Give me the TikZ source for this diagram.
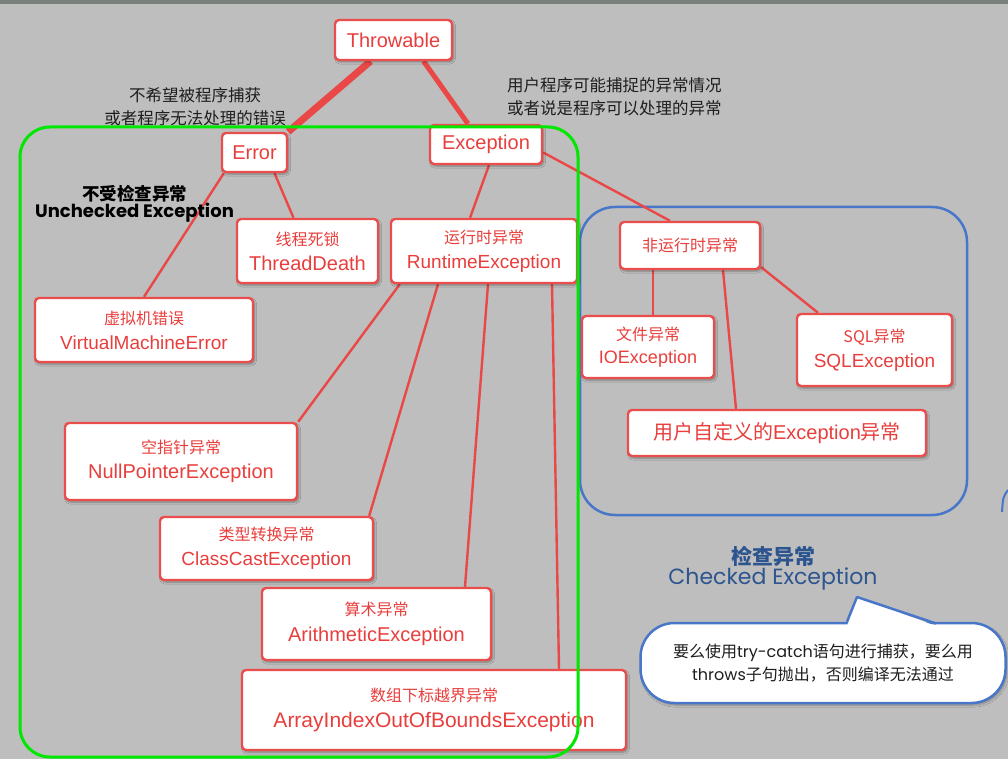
\documentclass[tikz,border=0pt]{standalone}
\usepackage{fontspec}
\setmainfont{Liberation Sans}
\newfontfamily\cjk{Noto Sans CJK SC}
\newfontfamily\geo{Poppins}
\usetikzlibrary{calc,shadows.blur}

\definecolor{bggray}{RGB}{190,190,190}
\definecolor{topgray}{RGB}{122,128,124}
\definecolor{boxred}{RGB}{234,78,76}
\definecolor{txtred}{RGB}{232,62,60}
\definecolor{linkred}{RGB}{234,72,70}
\definecolor{grpgreen}{RGB}{0,232,0}
\definecolor{grpblue}{RGB}{72,118,200}
\definecolor{labblue}{RGB}{44,84,142}
\definecolor{ink}{RGB}{30,30,30}

\pgfdeclarelayer{links}
\pgfdeclarelayer{front}
\pgfsetlayers{links,main,front}

% Chinese first line inside a class box
\newcommand\cn[1]{{\cjk\fontsize{16}{25}\selectfont #1}}

\begin{document}
\begin{tikzpicture}[x=1pt,y=-1pt,
  ebox/.style={draw=boxred, line width=2.4pt, fill=white, rounded corners=4pt,
    text=txtred, align=center, inner sep=0pt,
    font=\fontsize{19}{25}\selectfont,
    blur shadow={shadow xshift=1.5pt, shadow yshift=-2pt, shadow opacity=35, shadow blur steps=6}},
  link/.style={draw=linkred, line width=2.4pt},
  trunk/.style={draw=linkred},
  note/.style={text=ink, align=center, inner sep=0pt, font=\cjk\fontsize{16.5}{23}\selectfont},
]
\useasboundingbox (0,0) rectangle (1008,759);

% class hierarchy boxes
\node[ebox, minimum width=117pt, minimum height=40pt, font=\fontsize{20}{24}\selectfont] (throw) at (393.5,40) {Throwable};
\node[ebox, minimum width=65pt, minimum height=39pt, font=\fontsize{20}{24}\selectfont] (error) at (254.5,152.5) {Error};
\node[ebox, minimum width=112pt, minimum height=39pt, font=\fontsize{20}{24}\selectfont] (exc) at (486,144.5) {Exception};

\node[ebox, minimum width=141pt, minimum height=64pt, font=\fontsize{20}{25}\selectfont] (thread) at (307.5,251) {\cn{线程死锁}\\ThreadDeath};
\node[ebox, minimum width=186pt, minimum height=64pt] (runtime) at (484,251) {\cn{运行时异常}\\RuntimeException};
\node[ebox, minimum width=218pt, minimum height=64pt] (vme) at (144,330) {\cn{虚拟机错误}\\VirtualMachineError};
\node[ebox, minimum width=232pt, minimum height=77pt, font=\fontsize{20}{25}\selectfont] (npe) at (181,461.5) {\cn{空指针异常}\\NullPointerException};
\node[ebox, minimum width=213pt, minimum height=63pt] (cce) at (266.5,548.5) {\cn{类型转换异常}\\ClassCastException};
\node[ebox, minimum width=229pt, minimum height=72pt, font=\fontsize{20}{26}\selectfont] (arith) at (376.5,624) {\cn{算术异常}\\ArithmeticException};
\node[ebox, minimum width=384pt, minimum height=80pt, font=\fontsize{21}{26}\selectfont] (aioobe) at (434,710) {\cn{数组下标越界异常}\\ArrayIndexOutOfBoundsException};

\node[ebox, minimum width=140pt, minimum height=47pt] (nonrt) at (690,245.5) {\cn{非运行时异常}};
\node[ebox, minimum width=132pt, minimum height=62pt, font=\fontsize{18}{23}\selectfont] (io) at (648,347) {\cn{文件异常}\\IOException};
\node[ebox, minimum width=155pt, minimum height=72pt] (sql) at (874.5,350) {\cn{SQL异常}\\SQLException};
\node[ebox, minimum width=298pt, minimum height=46pt, font=\fontsize{20}{24}\selectfont] (user) at (777,433) {{\cjk 用户自定义的}Exception{\cjk 异常}};

% annotations
\node[note] (errnote) at (195,106.5) {不希望被程序捕获\\或者程序无法处理的错误};
\node[note, align=left, anchor=west] (excnote) at (507,97) {用户程序可能捕捉的异常情况\\或者说是程序可以处理的异常};
\node[align=center, inner sep=0pt, text=black] (unck) at (134.5,204) {{\cjk\bfseries\fontsize{17.5}{22}\selectfont 不受检查异常}\\{\geo\bfseries\fontsize{18}{22}\selectfont Unchecked Exception}};
\node[align=center, inner sep=0pt, text=labblue] (chk) at (773,568.5) {{\cjk\bfseries\fontsize{21}{27}\selectfont 检查异常}\\{\geo\fontsize{22}{27}\selectfont Checked Exception}};

% speech bubble
\node[draw=grpblue, line width=2.5pt, fill=white, rounded corners=34pt, minimum width=365pt, minimum height=80pt,
      align=center, inner sep=0pt, text=ink, font=\fontsize{16}{23}\selectfont,
      blur shadow={shadow xshift=1.5pt, shadow yshift=-2pt, shadow opacity=30, shadow blur steps=6}] (hint) at (823,663)
  {{\cjk 要么使用}{\geo try-catch}{\cjk 语句进行捕获，要么用}\\{\geo throws}{\cjk 子句抛出，否则编译无法通过}};
\coordinate (tip) at (857,597);
\fill[white] (847,626) -- (tip) -- (936,626) -- cycle;
\draw[grpblue, line width=2.5pt, line join=round] ([xshift=-2pt]hint.north -| 849,0) -- (tip) -- (936,623.5);

% page ground, checked group frame and connectors, all beneath the boxes
\begin{pgfonlayer}{links}
  \fill[bggray] (0,0) rectangle (1008,759);
  \fill[topgray] (0,0) rectangle (1008,4);
  \draw[grpblue, line width=2.5pt, rounded corners=35pt] (580,207) rectangle (967,515);
  \draw[grpblue, line width=2pt] (1008,490) .. controls (1003,497) .. (1002,512);

  \draw[trunk, line width=7pt] ([xshift=-23pt]throw.south) -- (error.north east);
  \draw[trunk, line width=5pt] ([xshift=30pt]throw.south) -- ([xshift=-18pt]exc.north);
  \draw[link] ([xshift=3pt]error.south west) -- (vme.north);
  \draw[link] ([xshift=20pt]error.south) -- ([xshift=-14pt]thread.north);
  \draw[link] ([xshift=3pt]exc.south) -- ([xshift=-14pt]runtime.north);
  \draw[link] ($(exc.east)+(0,8)$) -- ([xshift=-20pt]nonrt.north);
  \draw[link] ([xshift=10pt]runtime.south west) -- (npe.north east);
  \draw[link] ([xshift=-46pt]runtime.south) -- ([xshift=-5pt]cce.north east);
  \draw[link] ([xshift=4pt]runtime.south) -- ([xshift=88.5pt]arith.north);
  \draw[link] ([xshift=68pt]runtime.south) -- ([xshift=125pt]aioobe.north);
  \draw[link] ([xshift=-37pt]nonrt.south) -- ([xshift=5pt]io.north);
  \draw[link] ([xshift=33pt]nonrt.south) -- ([xshift=-41pt]user.north);
  \draw[link] ($(nonrt.south east)+(0,-3)$) -- ([xshift=-56.5pt]sql.north);
\end{pgfonlayer}

% unchecked group frame
\begin{pgfonlayer}{front}
  \draw[grpgreen, line width=3pt, rounded corners=30pt] (20,127) rectangle (578,757);
\end{pgfonlayer}
\end{tikzpicture}
\end{document}
